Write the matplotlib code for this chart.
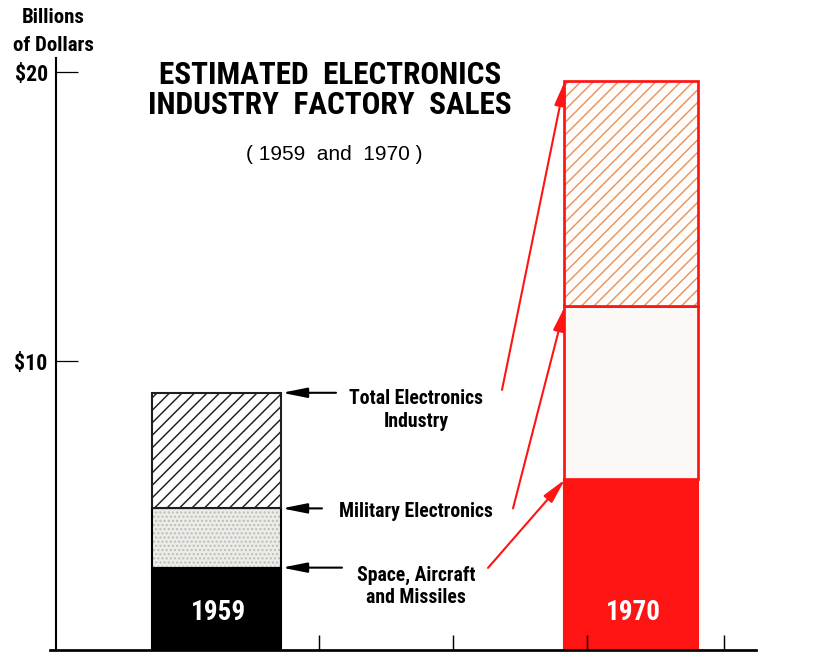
import matplotlib
matplotlib.use("Agg")
import matplotlib.pyplot as plt
from matplotlib import font_manager

# ---- data (billions of dollars, cumulative tops of each stacked segment) ----
years = ["1959", "1970"]
space_aircraft_missiles = [2.85, 5.9]
military_electronics = [4.9, 11.9]
total_electronics = [8.9, 19.7]
y_ticks = [10, 20]
y_tick_labels = ["$10", "$20"]
segment_labels = ["Total Electronics\nIndustry", "Military Electronics",
                  "Space, Aircraft\nand Missiles"]


def pick_condensed():
    """Return (family, stretch) of a narrow bold face if one is installed."""
    entries = font_manager.fontManager.ttflist
    names = {f.name for f in entries}
    for name in ["Liberation Sans Narrow", "Roboto Condensed", "Open Sans Condensed",
                 "Noto Sans Condensed", "DejaVu Sans Condensed"]:
        if name in names:
            return name, "normal"
    for f in entries:
        if str(f.stretch) in ("condensed", "semi-condensed", "extra-condensed"):
            return f.name, f.stretch
    return "DejaVu Sans", "normal"


NARROW, STRETCH = pick_condensed()
WIDE = "Liberation Sans"
NB = dict(family=NARROW, fontstretch=STRETCH, fontweight="bold")

# ---- layout ----
W, H, DPI = 815, 656, 150
fig = plt.figure(figsize=(W / DPI, H / DPI), dpi=DPI)
fig.patch.set_facecolor("white")
ax = fig.add_axes([56 / W, 6 / H, (W - 56) / W, 650 / H])
ax.set_xlim(0, W - 56)
ax.set_ylim(0, 650 / 28.9)

centers = [160.5, 575]
widths = [129, 134]
RED = "#ff1414"
HATCH_ORANGE = "#e8955f"

plt.rcParams["hatch.linewidth"] = 0.7

# 1959 bar: black base, stippled middle, hatched top
c, w = centers[0], widths[0]
ax.bar(c, space_aircraft_missiles[0], w, color="black", edgecolor="black", lw=1.0)
ax.bar(c, military_electronics[0] - space_aircraft_missiles[0], w,
       bottom=space_aircraft_missiles[0], color="#ecece9", edgecolor="#bdbdb8",
       hatch="......", lw=0)
ax.bar(c, military_electronics[0] - space_aircraft_missiles[0], w,
       bottom=space_aircraft_missiles[0], fill=False, edgecolor="black", lw=1.0)
ax.bar(c, total_electronics[0] - military_electronics[0], w,
       bottom=military_electronics[0], color="white", edgecolor="#1e1e1e",
       hatch="////", lw=1.0)

# 1970 bar: red base, pale middle, orange hatched top, red outline
c, w = centers[1], widths[1]
ax.bar(c, space_aircraft_missiles[1], w, color=RED, edgecolor=RED, lw=1.0)
ax.bar(c, military_electronics[1] - space_aircraft_missiles[1], w,
       bottom=space_aircraft_missiles[1], color="#fbf8f6", edgecolor=RED, lw=1.3)
ax.bar(c, total_electronics[1] - military_electronics[1], w,
       bottom=military_electronics[1], color="#fffdfb", edgecolor=HATCH_ORANGE,
       hatch="////", lw=0)
ax.bar(c, total_electronics[1] - military_electronics[1], w,
       bottom=military_electronics[1], fill=False, edgecolor=RED, lw=1.3)

# year labels inside the bars
for cx, yr in zip(centers, years):
    ax.text(cx + 2, 1.3, yr, color="white", fontsize=13, ha="center", va="center", **NB)

# ---- axes styling ----
for s in ["top", "right"]:
    ax.spines[s].set_visible(False)
ax.spines["left"].set_linewidth(1.0)
ax.spines["left"].set_bounds(0, 20.5)
ax.spines["bottom"].set_linewidth(1.3)
ax.spines["bottom"].set_bounds(-6, 700)

ax.set_yticks(y_ticks)
ax.set_yticklabels(y_tick_labels, fontsize=10.5, **NB)
ax.tick_params(axis="y", direction="in", length=10.5, width=0.6, pad=4)
ax.set_xticks([263, 397, 531, 668])
ax.set_xticklabels([])
ax.tick_params(axis="x", direction="in", length=7, width=0.7)

# axis caption
ax.text(-3, 21.87, "Billions", fontsize=10, ha="center", va="center", clip_on=False, **NB)
ax.text(-3, 20.93, "of Dollars", fontsize=10, ha="center", va="center", clip_on=False, **NB)

# title
ax.text(274, 19.9, "ESTIMATED  ELECTRONICS", fontsize=15, ha="center", va="center", **NB)
ax.text(274, 18.86, "INDUSTRY  FACTORY  SALES", fontsize=15, ha="center", va="center", **NB)
ax.text(278, 17.13, "( 1959  and  1970 )", fontsize=10, family=WIDE,
        ha="center", va="center")

# segment labels
label_y = [8.3, 4.78, 2.2]
for y, txt in zip(label_y, segment_labels):
    ax.text(360, y, txt, fontsize=9.5, ha="center", va="center", linespacing=1.25, **NB)

# black arrows pointing to the 1959 segment tops
right_edge = centers[0] + widths[0] / 2
tail_x = [280, 266, 286]
for top, tx in zip([total_electronics[0], military_electronics[0],
                    space_aircraft_missiles[0]], tail_x):
    ax.annotate("", xy=(right_edge + 1, top), xytext=(tx, top),
                arrowprops=dict(arrowstyle="-|>,head_length=1.0,head_width=0.2",
                                mutation_scale=10, lw=1.0, color="black",
                                shrinkA=0, shrinkB=0))

# red arrows from the labels to the 1970 segment tops
left_edge = centers[1] - widths[1] / 2
starts = [(446, 9.0), (457, 4.9), (432, 2.84)]
for (sx, sy), top in zip(starts, [total_electronics[1], military_electronics[1],
                                  space_aircraft_missiles[1]]):
    ax.annotate("", xy=(left_edge + 1, top), xytext=(sx, sy),
                arrowprops=dict(arrowstyle="-|>,head_length=1.0,head_width=0.22",
                                mutation_scale=10, lw=1.0, color=RED,
                                shrinkA=0, shrinkB=0))

fig.savefig("out.png", dpi=DPI, facecolor="white")
